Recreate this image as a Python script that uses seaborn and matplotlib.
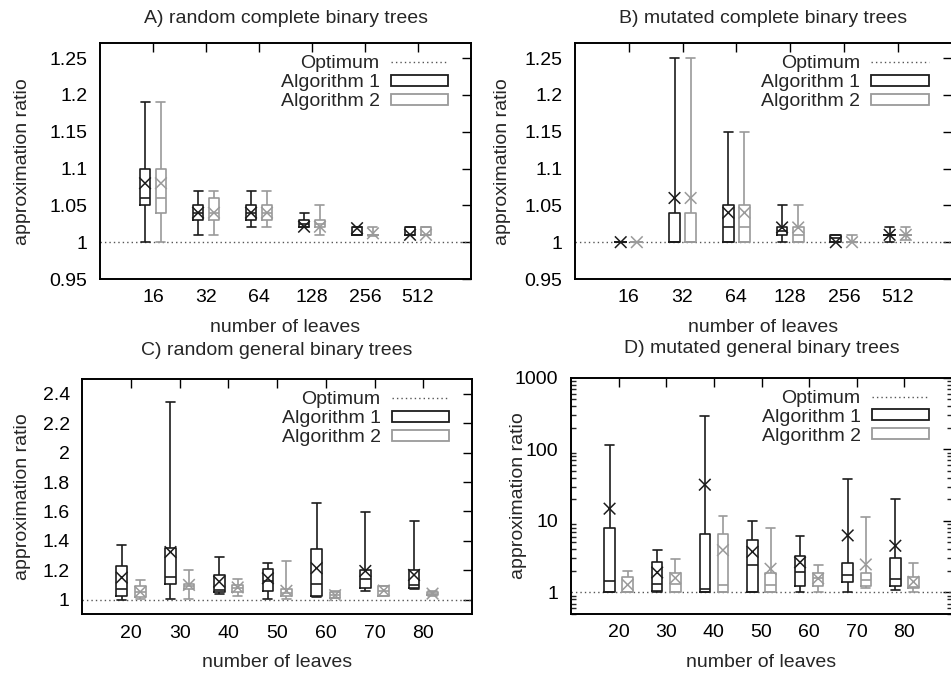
"""
Approximation ratio box plots for four tree families (2x2 panels),
gnuplot-like look: open boxes, whiskers to min/max, x marks for the mean.
"""

import numpy as np
import pandas as pd
import matplotlib
matplotlib.use("Agg")
import matplotlib.pyplot as plt
import seaborn as sns
from matplotlib.lines import Line2D
from matplotlib.patches import Patch
from matplotlib.ticker import LogLocator, NullFormatter

LEAVES_COMPLETE = [16, 32, 64, 128, 256, 512]
LEAVES_GENERAL = [20, 30, 40, 50, 60, 70, 80]
ALGOS = ["Algorithm 1", "Algorithm 2"]

# one row per leaf count: min, q1, median, q3, max, mean
a_alg1 = [
    (1.00, 1.05, 1.06, 1.10, 1.19, 1.08),
    (1.01, 1.03, 1.04, 1.05, 1.07, 1.04),
    (1.02, 1.03, 1.04, 1.05, 1.07, 1.04),
    (1.02, 1.02, 1.025, 1.03, 1.04, 1.021),
    (1.01, 1.01, 1.01, 1.02, 1.02, 1.019),
    (1.01, 1.01, 1.01, 1.02, 1.02, 1.01),
]
a_alg2 = [
    (1.00, 1.04, 1.06, 1.10, 1.19, 1.08),
    (1.01, 1.03, 1.04, 1.06, 1.07, 1.04),
    (1.02, 1.03, 1.04, 1.05, 1.07, 1.04),
    (1.01, 1.02, 1.025, 1.03, 1.05, 1.021),
    (1.008, 1.01, 1.01, 1.01, 1.02, 1.012),
    (1.01, 1.01, 1.01, 1.02, 1.02, 1.01),
]

b_alg1 = [
    (1.00, 1.00, 1.00, 1.00, 1.00, 1.00),
    (1.00, 1.00, 1.00, 1.04, 1.25, 1.06),
    (1.00, 1.00, 1.02, 1.05, 1.15, 1.04),
    (1.00, 1.01, 1.015, 1.02, 1.05, 1.02),
    (1.00, 1.00, 1.005, 1.01, 1.01, 1.00),
    (1.00, 1.01, 1.01, 1.01, 1.02, 1.01),
]
b_alg2 = [
    (1.00, 1.00, 1.00, 1.00, 1.00, 1.00),
    (1.00, 1.00, 1.00, 1.04, 1.25, 1.06),
    (1.00, 1.00, 1.02, 1.05, 1.15, 1.04),
    (1.00, 1.00, 1.01, 1.02, 1.05, 1.02),
    (1.00, 1.00, 1.00, 1.00, 1.01, 1.00),
    (1.003, 1.01, 1.01, 1.01, 1.02, 1.01),
]

c_alg1 = [
    (1.00, 1.028, 1.071, 1.228, 1.372, 1.15),
    (1.007, 1.108, 1.152, 1.354, 2.343, 1.324),
    (1.037, 1.05, 1.064, 1.17, 1.292, 1.122),
    (1.007, 1.057, 1.13, 1.209, 1.25, 1.145),
    (1.018, 1.025, 1.108, 1.343, 1.655, 1.214),
    (1.06, 1.078, 1.138, 1.20, 1.595, 1.195),
    (1.074, 1.078, 1.101, 1.20, 1.533, 1.168),
]
c_alg2 = [
    (1.007, 1.018, 1.05, 1.09, 1.131, 1.053),
    (1.007, 1.069, 1.09, 1.108, 1.20, 1.10),
    (1.028, 1.055, 1.078, 1.10, 1.14, 1.083),
    (1.007, 1.028, 1.046, 1.069, 1.262, 1.06),
    (1.011, 1.014, 1.03, 1.053, 1.06, 1.03),
    (1.023, 1.028, 1.062, 1.09, 1.094, 1.062),
    (1.023, 1.03, 1.041, 1.05, 1.06, 1.041),
]

d_alg1 = [
    (1.0, 1.0, 1.46, 8.0, 114, 14.8),
    (1.0, 1.04, 1.32, 2.68, 3.86, 1.9),
    (1.0, 1.0, 1.12, 6.5, 294, 32),
    (1.0, 1.0, 2.38, 5.33, 9.8, 3.7),
    (1.0, 1.25, 1.92, 3.18, 6.2, 2.63),
    (1.0, 1.41, 1.75, 2.6, 37.9, 6.26),
    (1.08, 1.25, 1.54, 3.05, 20.1, 4.49),
]
d_alg2 = [
    (1.0, 1.0, 1.02, 1.64, 1.99, 1.28),
    (1.0, 1.0, 1.31, 1.88, 2.89, 1.59),
    (1.0, 1.0, 1.29, 6.5, 11.8, 3.9),
    (1.0, 1.0, 1.29, 1.88, 8.0, 2.14),
    (1.0, 1.25, 1.57, 1.84, 2.38, 1.57),
    (1.16, 1.24, 1.47, 1.84, 11.5, 2.46),
    (1.0, 1.14, 1.2, 1.67, 2.57, 1.41),
]

COLORS = {"Algorithm 1": "#1c1c1c", "Algorithm 2": "#9a9a9a"}
OPT_COLOR = "#555555"
DOTS = (0, (1, 2.2))
FS = 14

W, H = 951, 677

sns.set_theme(style="white")
plt.rcParams["font.family"] = ["Liberation Sans", "DejaVu Sans"]


def add_axes_px(fig, left, top, right, bottom):
    return fig.add_axes([left / W, 1 - bottom / H, (right - left) / W, (bottom - top) / H])


def widen_caps(ax, box_w):
    # seaborn draws whisker caps at half the box width; gnuplot's are wider
    for line in ax.lines:
        xs, ys = line.get_xdata(), line.get_ydata()
        if len(xs) != 2 or ys[0] != ys[1]:
            continue
        w = abs(xs[1] - xs[0])
        if 0 < w < 0.7 * box_w:
            c = (xs[0] + xs[1]) / 2
            line.set_xdata([c - 0.42 * box_w, c + 0.42 * box_w])


def draw_panel(ax, box_px, positions, labels, stats1, stats2, offset, width,
               xlim, ylim, yticks, title, title_pad, xlabel_top, ylabel_right,
               log=False):
    left, top, right, bottom = box_px
    wpx, hpx = right - left, bottom - top

    rows, means = [], []
    for algo, stats, sign in ((ALGOS[0], stats1, -1), (ALGOS[1], stats2, 1)):
        for p, s in zip(positions, stats):
            x = p + sign * offset
            for v in s[:5]:
                rows.append((x, algo, v))
            means.append((x, algo, s[5]))
    df = pd.DataFrame(rows, columns=["x", "algo", "value"])
    dm = pd.DataFrame(means, columns=["x", "algo", "value"])

    sns.boxplot(data=df, x="x", y="value", hue="algo", palette=COLORS,
                native_scale=True, dodge=False, width=width, whis=(0, 100),
                fill=False, linewidth=1.2, showfliers=False, legend=False,
                log_scale=(False, True) if log else None, ax=ax)
    widen_caps(ax, width * 2 * offset)
    ax.axhline(1, color=OPT_COLOR, ls=DOTS, lw=1.0, zorder=1)
    sns.scatterplot(data=dm, x="x", y="value", hue="algo", palette=COLORS,
                    marker="x", s=70, linewidth=1.1, legend=False, ax=ax,
                    zorder=4)

    ax.set_xlim(*xlim)
    ax.set_ylim(*ylim)
    ax.set_xticks(positions)
    ax.set_xticklabels(labels)
    ax.set_yticks(yticks)
    ax.set_yticklabels([f"{t:g}" for t in yticks])
    if log:
        ax.yaxis.set_minor_locator(LogLocator(base=10, subs=np.arange(2, 10)))
        ax.yaxis.set_minor_formatter(NullFormatter())
        ax.tick_params(axis="y", which="minor", direction="in", length=3.5,
                       width=1, left=True, right=True)

    for sp in ax.spines.values():
        sp.set_linewidth(1.4)
        sp.set_color("black")
    ax.tick_params(axis="both", which="major", direction="in", length=6.5,
                   width=1, top=True, right=True, labelsize=FS, colors="black")
    ax.tick_params(axis="x", which="major", pad=7.5)
    ax.tick_params(axis="y", which="major", pad=9)

    ax.set_title(title, fontsize=FS, pad=title_pad)
    ax.set_xlabel("number of leaves", fontsize=FS)
    ax.set_ylabel("approximation ratio", fontsize=FS)
    ax.xaxis.set_label_coords(0.5, -(xlabel_top - bottom) / hpx)
    ax.yaxis.set_label_coords(-(left - ylabel_right) / wpx, 0.5)

    handles = [
        Line2D([], [], color=OPT_COLOR, ls=DOTS, lw=1.0),
        Patch(facecolor="none", edgecolor=COLORS[ALGOS[0]], lw=1.3),
        Patch(facecolor="none", edgecolor=COLORS[ALGOS[1]], lw=1.3),
    ]
    ax.legend(handles, ["Optimum"] + ALGOS, loc="upper right",
              bbox_to_anchor=(1 - 23 / wpx, 1 - 12 / hpx), frameon=False,
              markerfirst=False, handlelength=2.95, handleheight=0.46,
              handletextpad=0.57, labelspacing=0.1, borderpad=0,
              borderaxespad=0, fontsize=FS)


fig = plt.figure(figsize=(W / 100, H / 100), dpi=100)
fig.patch.set_facecolor("white")

log2_pos = [float(np.log2(v)) for v in LEAVES_COMPLETE]
str_complete = [str(v) for v in LEAVES_COMPLETE]
str_general = [str(v) for v in LEAVES_GENERAL]
ticks_ab = [0.95, 1.0, 1.05, 1.1, 1.15, 1.2, 1.25]

box_a = (100, 43.3, 471, 279)
ax_a = add_axes_px(fig, *box_a)
draw_panel(ax_a, box_a, log2_pos, str_complete, a_alg1, a_alg2, 0.15, 0.667,
           (3, 10), (0.95, 1.27), ticks_ab, "A) random complete binary trees",
           14.8, 319, 31)

box_b = (575, 43.3, 951.5, 279)
ax_b = add_axes_px(fig, *box_b)
draw_panel(ax_b, box_b, log2_pos, str_complete, b_alg1, b_alg2, 0.15, 0.667,
           (3, 10), (0.95, 1.27), ticks_ab, "B) mutated complete binary trees",
           14.8, 319, 511)

box_c = (82.3, 379.3, 472, 614.3)
ax_c = add_axes_px(fig, *box_c)
draw_panel(ax_c, box_c, LEAVES_GENERAL, str_general, c_alg1, c_alg2, 1.9, 0.58,
           (10, 90), (0.9, 2.5), [1, 1.2, 1.4, 1.6, 1.8, 2, 2.2, 2.4],
           "C) random general binary trees", 17.5, 654, 31)

box_d = (571, 377.7, 952, 614)
ax_d = add_axes_px(fig, *box_d)
draw_panel(ax_d, box_d, LEAVES_GENERAL, str_general, d_alg1, d_alg2, 1.9, 0.58,
           (10, 90), (0.5, 1000), [1, 10, 100, 1000],
           "D) mutated general binary trees", 17.5, 654, 527, log=True)

fig.savefig("out.png", dpi=100, facecolor="white")
